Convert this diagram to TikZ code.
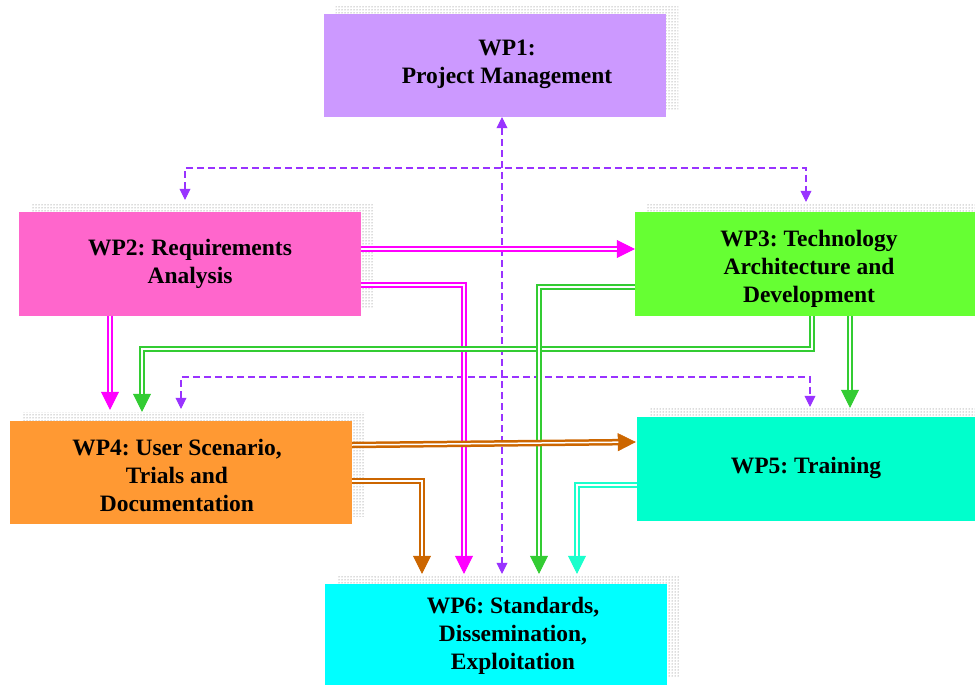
\documentclass[tikz,border=0pt]{standalone}
\usepackage{fontspec}
\setmainfont{Liberation Serif}
\usetikzlibrary{arrows.meta,patterns,backgrounds}
\definecolor{cwpa}{HTML}{CC99FF}
\definecolor{cwpb}{HTML}{FF66CC}
\definecolor{cwpc}{HTML}{66FF33}
\definecolor{cwpd}{HTML}{FF9933}
\definecolor{cwpe}{HTML}{00FFCC}
\definecolor{cwpf}{HTML}{00FFFF}
\definecolor{cmag}{HTML}{FF00FF}
\definecolor{cgrn}{HTML}{33CC33}
\definecolor{corg}{HTML}{CC6600}
\definecolor{caqu}{HTML}{1AFFCC}
\definecolor{cpur}{HTML}{9933FF}
\frenchspacing
\begin{document}
\begin{tikzpicture}[x=1pt,y=-1pt,
  box/.style={draw=none, inner sep=0pt, minimum width=342pt},
  lbl/.style={font=\fontsize{23.5}{28}\selectfont\bfseries, align=center, inner sep=0pt},
  shad/.style={pattern=dots, pattern color=black!60},
  dbl/.style={line width=6.5pt, -{Triangle[length=18pt,width=18pt,line width=0.5pt]},
    postaction={draw=white, line width=1.5pt, -, shorten >=17.5pt}},
  pdash/.style={cpur, line width=2pt, dash pattern=on 7pt off 4pt,
    {Triangle[length=11pt,width=11pt,line width=0.5pt]}-{Triangle[length=11pt,width=11pt,line width=0.5pt]}}]
\useasboundingbox (0,0) rectangle (975,685);
% boxes
\node[box, fill=cwpa, minimum height=103pt] (wp1) at (495,65.5) {};
\node[box, fill=cwpb, minimum height=104pt] (wp2) at (190,264) {};
\node[box, fill=cwpc, minimum height=104pt] (wp3) at (806,264) {};
\node[box, fill=cwpd, minimum height=103pt] (wp4) at (181,472.5) {};
\node[box, fill=cwpe, minimum height=104pt] (wp5) at (808,469) {};
\node[box, fill=cwpf, minimum height=101pt] (wp6) at (496,634.5) {};
% shadows
\begin{scope}[on background layer]
\foreach \n in {1,...,6}
  \fill[shad] ([shift={(12pt,8pt)}]wp\n.south west) rectangle ([shift={(12pt,8pt)}]wp\n.north east);
\end{scope}
% labels
\node[lbl] (t1) at (507,64) {WP1:\\Project Management};
\node[lbl] (t2) at (190,264) {WP2: Requirements\\Analysis};
\node[lbl] (t3) at (809,269) {WP3: Technology\\Architecture and\\Development};
\node[lbl] (t4) at (177,475.5) {WP4: User Scenario,\\Trials and\\Documentation};
\node[lbl] (t5) at (806,467.5) {WP5: Training};
\node[lbl] (t6) at (513,635.5) {WP6: Standards,\\Dissemination,\\Exploitation};
% purple dashed connectors
\draw[pdash] ([xshift=7pt]wp1.south) -- ([xshift=6pt,yshift=10pt]wp6.north);
\draw[pdash] ([xshift=-5pt,yshift=12pt]wp2.north) -- ++(0,-32) -| ([yshift=10pt]wp3.north);
\draw[pdash] ([yshift=12pt]wp4.north) -- ++(0,-32) -| ([xshift=2pt,yshift=10pt]wp5.north);
% WP2
\draw[dbl, cmag] ([yshift=15pt]wp2.east) -- ([yshift=15pt]wp3.west);
\draw[dbl, cmag] ([yshift=-21pt]wp2.east) -| ([xshift=-32pt,yshift=10pt]wp6.north);
\draw[dbl, cmag] ([xshift=-80pt]wp2.south) -- ([xshift=-71pt,yshift=11pt]wp4.north);
% WP3
\draw[dbl, cgrn] ([xshift=6pt]wp3.south) -- ++(0,33) -| ([xshift=-39pt,yshift=9pt]wp4.north);
\draw[dbl, cgrn] ([xshift=44pt]wp3.south) -- ([xshift=42pt,yshift=9pt]wp5.north);
\draw[dbl, cgrn] ([yshift=-23pt]wp3.west) -| ([xshift=43pt,yshift=10pt]wp6.north);
% WP4
\draw[dbl, corg] ([yshift=27.5pt]wp4.east) -- ([xshift=-1pt,yshift=27pt]wp5.west);
\draw[dbl, corg] ([yshift=-8.5pt]wp4.east) -| ([xshift=-74pt,yshift=10pt]wp6.north);
% WP5
\draw[dbl, caqu] ([yshift=-16pt]wp5.west) -| ([xshift=81pt,yshift=10pt]wp6.north);
\end{tikzpicture}
\end{document}
